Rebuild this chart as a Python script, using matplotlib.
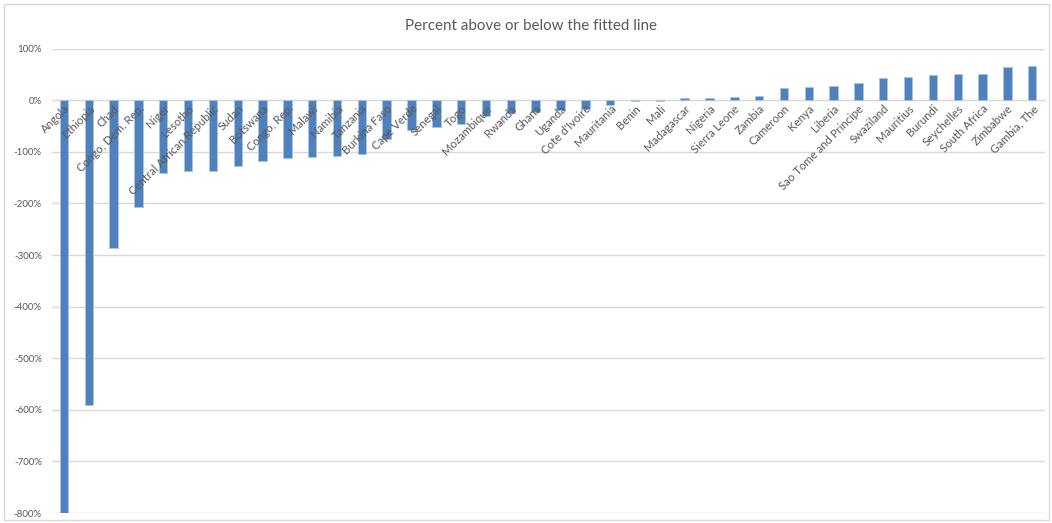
import matplotlib
matplotlib.use("Agg")
import matplotlib.pyplot as plt
from matplotlib.patches import Rectangle
from matplotlib.ticker import FuncFormatter

plt.rcParams["font.family"] = ["Lato", "DejaVu Sans"]

countries = [
    "Angola", "Ethiopia", "Chad", "Congo, Dem. Rep.", "Niger", "Lesotho",
    "Central African Republic", "Sudan", "Botswana", "Congo, Rep.", "Malawi",
    "Namibia", "Tanzania", "Burkina Faso", "Cape Verde", "Senegal", "Togo",
    "Mozambique", "Rwanda", "Ghana", "Uganda", "Cote d'Ivoire", "Mauritania",
    "Benin", "Mali", "Madagascar", "Nigeria", "Sierra Leone", "Zambia",
    "Cameroon", "Kenya", "Liberia", "Sao Tome and Principe", "Swaziland",
    "Mauritius", "Burundi", "Seychelles", "South Africa", "Zimbabwe", "Gambia, The",
]
pct = [
    -800, -591, -286, -206, -141, -138,
    -137, -127, -118, -111, -110,
    -108, -105, -76, -58, -52, -46,
    -30, -25, -22, -18, -17, -10,
    -1, -1, 4, 4.5, 6, 9,
    24, 25, 28, 34, 43,
    45, 49, 50.5, 51, 64, 67,
]
yticks = [100, 0, -100, -200, -300, -400, -500, -600, -700, -800]

GRID = "#d9d9d9"
TEXT = "#595959"
BAR = "#4f81bd"

fig = plt.figure(figsize=(10.52, 5.23), dpi=100)
ax = fig.add_axes([0.049, 0.019, 0.944, 0.888])

x = list(range(len(countries)))
ax.bar(x, pct, width=0.34, color=BAR, edgecolor="#a9c4e6", linewidth=0.6, zorder=2)

ax.set_xlim(-0.5, len(countries) - 0.5)
ax.set_ylim(-800, 100)
ax.set_yticks(yticks)
ax.yaxis.set_major_formatter(FuncFormatter(lambda v, p: f"{int(v)}%"))
ax.grid(axis="y", color=GRID, linewidth=1.0, zorder=0)
ax.tick_params(axis="y", length=0, labelsize=7, labelcolor=TEXT, pad=7)

for s in ["top", "right", "left"]:
    ax.spines[s].set_visible(False)
ax.spines["bottom"].set_position(("data", 0))
ax.spines["bottom"].set_color(GRID)
ax.spines["bottom"].set_zorder(1)

ax.set_xticks(x)
ax.set_xticklabels(countries, rotation=45, ha="right", rotation_mode="anchor",
                   fontsize=8.2, color=TEXT)
ax.tick_params(axis="x", length=0, pad=2)
ax.xaxis.set_zorder(4)

fig.text(0.505, 0.951, "Percent above or below the fitted line", ha="center",
         va="center", fontsize=10.9, color=TEXT)

fig.patches.append(Rectangle((0.004, 0.006), 0.993, 0.986, transform=fig.transFigure,
                             fill=False, edgecolor=GRID, linewidth=1.0))

fig.savefig("out.png", dpi=100)
